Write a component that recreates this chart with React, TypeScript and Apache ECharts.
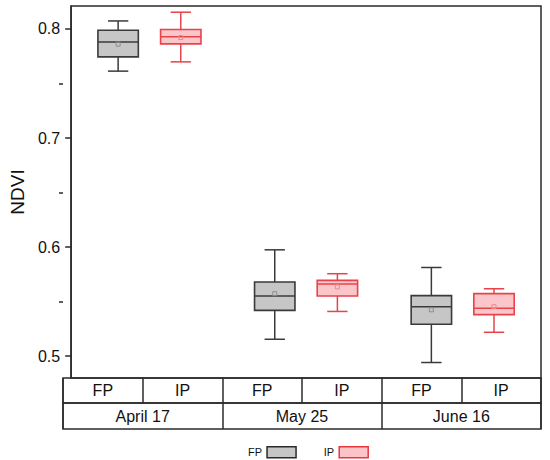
import React, { useEffect, useRef } from "react";
import * as echarts from "echarts";

const dates = ["April 17", "May 25", "June 16"];
const treatments = ["FP", "IP"];

const fpMin = [0.7613, 0.5155, 0.4942];
const fpQ1 = [0.7744, 0.542, 0.5293];
const fpMedian = [0.7881, 0.5552, 0.5452];
const fpQ3 = [0.7988, 0.568, 0.5555];
const fpMax = [0.8073, 0.5975, 0.5813];
const fpMean = [0.786, 0.5573, 0.5425];

const ipMin = [0.7698, 0.541, 0.5219];
const ipQ1 = [0.7863, 0.5552, 0.5381];
const ipMedian = [0.7927, 0.5662, 0.5439];
const ipQ3 = [0.7994, 0.5695, 0.5573];
const ipMax = [0.8153, 0.5756, 0.5618];
const ipMean = [0.7921, 0.5635, 0.5454];

const yTicks = [0.5, 0.6, 0.7, 0.8];
const yMinorTicks = [0.55, 0.65, 0.75];

const FONT = "'Liberation Sans', Arial, sans-serif";
const FRAME = "#2b2b2b";
const BOX_W = 0.258;
const CAP_W = 0.13;
const OFFSET = 0.2;

function buildData(
  offset: number,
  mn: number[],
  q1: number[],
  md: number[],
  q3: number[],
  mx: number[],
  mean: number[]
) {
  return dates.map((_, i) => [i + 1 + offset, mn[i], q1[i], md[i], q3[i], mx[i], mean[i]]);
}

function makeRender(stroke: string, fill: string, meanColor: string) {
  return (params: any, api: any) => {
    const x = api.value(0);
    const pMin = api.coord([x, api.value(1)]);
    const pQ1 = api.coord([x, api.value(2)]);
    const pMed = api.coord([x, api.value(3)]);
    const pQ3 = api.coord([x, api.value(4)]);
    const pMax = api.coord([x, api.value(5)]);
    const pMean = api.coord([x, api.value(6)]);
    const bw = api.size([BOX_W, 0])[0];
    const cw = api.size([CAP_W, 0])[0];
    const cx = pMin[0];
    const ls = { stroke, lineWidth: 1.5 };
    return {
      type: "group",
      children: [
        { type: "line", shape: { x1: cx, y1: pMax[1], x2: cx, y2: pQ3[1] }, style: ls },
        { type: "line", shape: { x1: cx, y1: pQ1[1], x2: cx, y2: pMin[1] }, style: ls },
        { type: "line", shape: { x1: cx - cw / 2, y1: pMax[1], x2: cx + cw / 2, y2: pMax[1] }, style: ls },
        { type: "line", shape: { x1: cx - cw / 2, y1: pMin[1], x2: cx + cw / 2, y2: pMin[1] }, style: ls },
        {
          type: "rect",
          shape: { x: cx - bw / 2, y: pQ3[1], width: bw, height: pQ1[1] - pQ3[1] },
          style: { fill, stroke, lineWidth: 1.6 },
        },
        { type: "line", shape: { x1: cx - bw / 2, y1: pMed[1], x2: cx + bw / 2, y2: pMed[1] }, style: ls },
        {
          type: "rect",
          shape: { x: cx - 2, y: pMean[1] - 2, width: 4, height: 4 },
          style: { fill: "none", stroke: meanColor, lineWidth: 1 },
        },
      ],
    };
  };
}

export default function App() {
  const ref = useRef<HTMLDivElement>(null);

  useEffect(() => {
    if (!ref.current) return;
    const chart = echarts.init(ref.current, undefined, { renderer: "svg" });
    const subCats: string[] = [];
    dates.forEach(() => treatments.forEach((t) => subCats.push(t)));

    const gridRect = { left: 63, top: 6, width: 478, height: 372 };
    const tableLabel = {
      inside: true,
      verticalAlign: "middle",
      fontSize: 16,
      color: "#111",
      fontFamily: FONT,
      interval: 0,
    };

    chart.setOption({
      animation: false,
      textStyle: { fontFamily: FONT },
      grid: [
        { ...gridRect, show: true, borderColor: FRAME, borderWidth: 1.5, backgroundColor: "transparent" },
        { left: 63, top: 378, width: 478, height: 25, show: true, borderColor: FRAME, borderWidth: 1.5 },
        { left: 63, top: 403, width: 478, height: 26, show: true, borderColor: FRAME, borderWidth: 1.5 },
        { ...gridRect, show: false },
      ],
      xAxis: [
        { type: "value", gridIndex: 0, min: 0.5, max: 3.5, show: false },
        {
          type: "category",
          gridIndex: 1,
          data: subCats,
          position: "bottom",
          axisLine: { show: false },
          axisTick: { show: false },
          axisLabel: { ...tableLabel, margin: 12.5 },
          splitLine: { show: true, interval: 0, lineStyle: { color: FRAME, width: 1.5 } },
        },
        {
          type: "category",
          gridIndex: 2,
          data: dates,
          position: "bottom",
          axisLine: { show: false },
          axisTick: { show: false },
          axisLabel: { ...tableLabel, margin: 13 },
          splitLine: { show: true, interval: 0, lineStyle: { color: FRAME, width: 1.5 } },
        },
        { type: "value", gridIndex: 3, min: 0.5, max: 3.5, show: false },
      ],
      yAxis: [
        {
          type: "value",
          gridIndex: 0,
          min: 0.48,
          max: 0.821,
          name: "NDVI",
          nameLocation: "middle",
          nameGap: 41,
          nameTextStyle: { fontSize: 19, color: "#111", fontFamily: FONT },
          axisLine: { show: true, lineStyle: { color: FRAME, width: 1.5 } },
          axisTick: { show: true, length: 6, customValues: yTicks, lineStyle: { color: FRAME, width: 1.5 } },
          axisLabel: {
            customValues: yTicks,
            margin: 11,
            fontSize: 16,
            color: "#111",
            fontFamily: FONT,
            formatter: (v: number) => v.toFixed(1),
          },
          splitLine: { show: false },
        },
        { type: "value", gridIndex: 1, show: false },
        { type: "value", gridIndex: 2, show: false },
        {
          type: "value",
          gridIndex: 3,
          min: 0.48,
          max: 0.821,
          axisLine: { show: false },
          axisTick: { show: true, length: 4, customValues: yMinorTicks, lineStyle: { color: FRAME, width: 1.5 } },
          axisLabel: { show: false },
          splitLine: { show: false },
        },
      ],
      legend: {
        left: 243,
        top: 441,
        align: "right",
        itemWidth: 29,
        itemHeight: 11,
        itemGap: 27,
        icon: "rect",
        textStyle: { fontSize: 11, color: "#111", fontFamily: FONT },
        data: [
          { name: "FP", itemStyle: { color: "#c6c6c6", borderColor: "#2a2a2a", borderWidth: 1.5 } },
          { name: "IP", itemStyle: { color: "#fcc4c8", borderColor: "#e8363f", borderWidth: 1.5 } },
        ],
      },
      series: [
        {
          name: "FP",
          type: "custom",
          xAxisIndex: 0,
          yAxisIndex: 0,
          itemStyle: { color: "#c6c6c6", borderColor: "#2a2a2a" },
          renderItem: makeRender("#3a3a3a", "#c6c6c6", "#8e8e8e"),
          encode: { x: 0, y: [1, 2, 3, 4, 5] },
          data: buildData(-OFFSET, fpMin, fpQ1, fpMedian, fpQ3, fpMax, fpMean),
        },
        {
          name: "IP",
          type: "custom",
          xAxisIndex: 0,
          yAxisIndex: 0,
          itemStyle: { color: "#fcc4c8", borderColor: "#e8363f" },
          renderItem: makeRender("#e8434a", "#fbc6c9", "#ec8a90"),
          encode: { x: 0, y: [1, 2, 3, 4, 5] },
          data: buildData(OFFSET, ipMin, ipQ1, ipMedian, ipQ3, ipMax, ipMean),
        },
      ],
    });
    return () => chart.dispose();
  }, []);

  return (
    <div
      ref={ref}
      style={{ position: "fixed", left: 0, top: 0, width: 550, height: 460, background: "#fff" }}
    />
  );
}
